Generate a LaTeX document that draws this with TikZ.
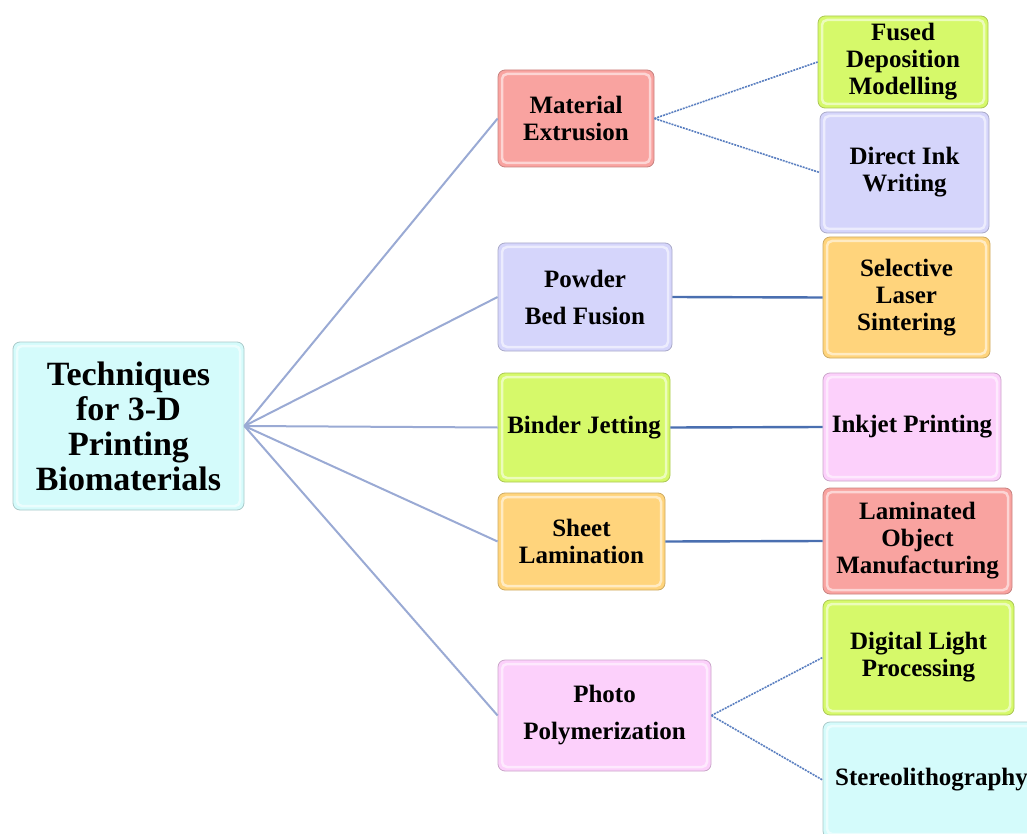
\documentclass[tikz,border=0pt]{standalone}
\usepackage{fontspec}
\setmainfont{Liberation Serif}
\definecolor{cRed}{HTML}{F9A3A0}
\definecolor{cLav}{HTML}{D5D5FB}
\definecolor{cGrn}{HTML}{D6F96A}
\definecolor{cOrg}{HTML}{FFD47C}
\definecolor{cPnk}{HTML}{FCD0FB}
\definecolor{cCyn}{HTML}{D4FBFB}
\definecolor{lnLight}{HTML}{9AAAD4}
\definecolor{lnDark}{HTML}{4A6FB0}
\definecolor{lnDot}{HTML}{5A7FC0}
\begin{document}
\begin{tikzpicture}[x=1pt,y=-1pt,
  box/.style={rectangle, rounded corners=7pt, fill=#1, draw=#1!80!black, line width=0.8pt,
    inner sep=0pt, align=center, font=\fontsize{25}{27}\selectfont\bfseries,
    path picture={\draw[white,opacity=.55,line width=2.5pt,rounded corners=5pt]
      ([shift={(4pt,-4pt)}]path picture bounding box.north west) rectangle
      ([shift={(-4pt,4pt)}]path picture bounding box.south east);}},
  trunk/.style={draw=lnLight, line width=2pt},
  solidlink/.style={draw=lnDark, line width=2.4pt},
  dotlink/.style={draw=lnDot, line width=1.6pt, dash pattern=on 2pt off 1pt}]
\useasboundingbox (0,0) rectangle (1027,834);

\node[box=cCyn, minimum width=231pt, minimum height=168pt,
  font=\fontsize{34}{35}\selectfont\bfseries] (main) at (128.5,426)
  {Techniques\\for 3-D\\Printing\\Biomaterials};

\node[box=cRed, minimum width=156pt, minimum height=97pt] (me) at (576,118.5) {Material\\Extrusion};
\node[box=cLav, minimum width=174pt, minimum height=108pt] (pbf) at (585,297) {Powder\\[10pt]Bed Fusion};
\node[box=cGrn, minimum width=172pt, minimum height=109pt] (bj) at (584,427.5) {Binder Jetting};
\node[box=cOrg, minimum width=167pt, minimum height=97pt] (sl) at (581.5,541.5) {Sheet\\Lamination};
\node[box=cPnk, minimum width=213pt, minimum height=111pt] (pp) at (604.5,715.5) {Photo\\[10pt]Polymerization};

\node[box=cGrn, minimum width=170pt, minimum height=92pt] (fdm) at (903,62) {Fused\\Deposition\\Modelling};
\node[box=cLav, minimum width=169pt, minimum height=121pt] (diw) at (904.5,172.5) {Direct Ink\\Writing};
\node[box=cOrg, minimum width=167pt, minimum height=121pt] (sls) at (906.5,297.5) {Selective\\Laser\\Sintering};
\node[box=cPnk, minimum width=178pt, minimum height=108pt] (ijp) at (912,427) {Inkjet Printing};
\node[box=cRed, minimum width=189pt, minimum height=106pt] (lom) at (917.5,541) {Laminated\\Object\\Manufacturing};
\node[box=cGrn, minimum width=191pt, minimum height=115pt] (dlp) at (918.5,657.5) {Digital Light\\Processing};
\node[box=cCyn, minimum width=217pt, minimum height=116pt] (sla) at (931.5,780) {Stereolithography};

\draw[trunk] (main.east) -- (me.west);
\draw[trunk] (main.east) -- (pbf.west);
\draw[trunk] (main.east) -- (bj.west);
\draw[trunk] (main.east) -- (sl.west);
\draw[trunk] (main.east) -- (pp.west);

\draw[dotlink] (me.east) -- (fdm.west);
\draw[dotlink] (me.east) -- (diw.west);
\draw[solidlink] (pbf.east) -- (sls.west);
\draw[solidlink] (bj.east) -- (ijp.west);
\draw[solidlink] (sl.east) -- (lom.west);
\draw[dotlink] (pp.east) -- (dlp.west);
\draw[dotlink] (pp.east) -- (sla.west);
\end{tikzpicture}
\end{document}
